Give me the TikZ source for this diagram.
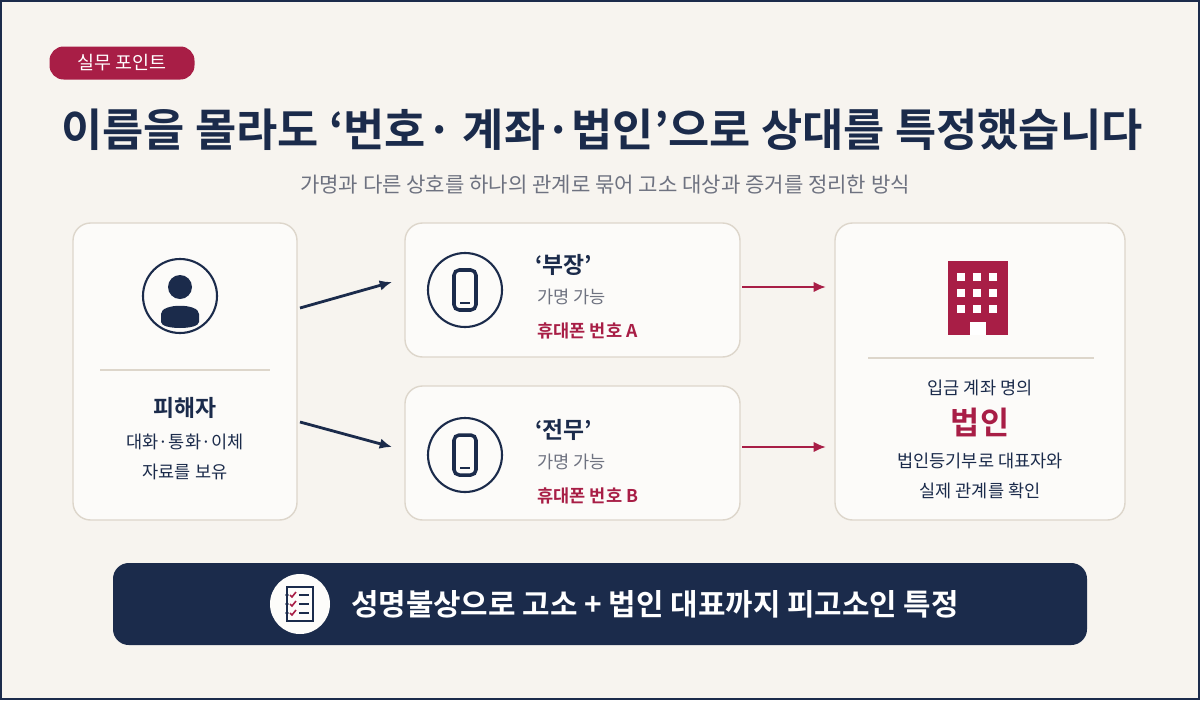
\documentclass[tikz,border=0pt]{standalone}
\usepackage{fontspec}
\setmainfont{Noto Sans CJK KR}
\newfontfamily\kb{Noto Sans CJK KR Bold}
\begin{document}
\definecolor{navy}{HTML}{1B2B4B}
\definecolor{crim}{HTML}{A81E46}
\definecolor{bg}{HTML}{F7F4EF}
\definecolor{gry}{HTML}{6E7280}
\definecolor{edge}{HTML}{DDD6CB}
\begin{tikzpicture}[x=0.02cm,y=-0.02cm,
 card/.style={draw=edge,line width=0.8pt,fill=white!60!bg,rounded corners=10pt},
 ic/.style={circle,draw=navy,line width=1.2pt,fill=white!60!bg,minimum size=74*0.02cm,inner sep=0},
 arr/.style={line width=1.6pt,-{Latex[length=7pt,width=6pt]}},
 txt/.style={inner sep=0,text=navy,font=\fontsize{10}{12}\selectfont}]
\usetikzlibrary{arrows.meta}
\fill[navy] (0,0) rectangle (1200,700);
\fill[bg] (2,2) rectangle (1198,698);
\useasboundingbox (0,0) rectangle (1200,700);
% badge
\node[fill=crim,rounded corners=8pt,minimum width=145*0.02cm,minimum height=33*0.02cm,text=white,font=\fontsize{10.5}{12}\selectfont,inner sep=0] (badge) at (122,63) {실무 포인트};
\node[txt,font=\kb\fontsize{25.5}{29}\selectfont] (title) at (602,130) {이름을 몰라도 ‘번호· 계좌·법인’으로 상대를 특정했습니다};
\node[txt,text=gry,font=\fontsize{12}{14}\selectfont] (sub) at (605,185) {가명과 다른 상호를 하나의 관계로 묶어 고소 대상과 증거를 정리한 방식};
% cards
\draw[card] (73,223) rectangle (297,520);
\draw[card] (405,223) rectangle (740,357);
\draw[card] (405,386) rectangle (740,520);
\draw[card] (835,223) rectangle (1125,520);
% left card
\node[ic] (pc) at (180,296) {};
\fill[navy] (180,287) circle (12);
\fill[navy] (161,322) -- (161,314) .. controls (161,303) and (199,303) .. (199,314) -- (199,322) .. controls (199,330) and (161,330) .. (161,322) -- cycle;
\draw[edge,line width=0.6pt] (100,370) -- (270,370);
\node[txt,font=\kb\fontsize{13}{15}\selectfont] (vic) at (185,408) {피해자};
\node[txt] (v1) at (185,442) {대화·통화·이체};
\node[txt] (v2) at (185,472) {자료를 보유};
% phones
\foreach \y/\n/\a in {290/‘부장’/A,455/‘전무’/B}{
 \node[ic] at (465,\y) {};
 \draw[navy,line width=2pt,rounded corners=3pt] (454,\y-20) rectangle (476,\y+20);
 \draw[navy,line width=1.6pt] (460,\y+13) -- (470,\y+13);
 \node[txt,anchor=west,font=\kb\fontsize{13}{15}\selectfont] at (535,\y-25) {\n};
 \node[txt,anchor=west,text=gry] at (537,\y+7) {가명 가능};
 \node[txt,anchor=west,text=crim,font=\kb\fontsize{10}{12}\selectfont] at (537,\y+41) {휴대폰 번호 \a};
}
% building
\fill[crim] (948,261) rectangle (1008,335);
\foreach \i in {0,1,2}{\foreach \j in {0,1,2}{
 \fill[white] (957+\i*16,273+\j*16) rectangle (965+\i*16,281+\j*16);}}
\fill[white] (970,322) rectangle (986,335);
\draw[edge,line width=0.6pt] (868,358) -- (1094,358);
\node[txt] (r1) at (980,388) {입금 계좌 명의};
\node[txt,text=crim,font=\kb\fontsize{18}{20}\selectfont] (r2) at (980,422) {법인};
\node[txt] (r3) at (980,461) {법인등기부로 대표자와};
\node[txt] (r4) at (980,491) {실제 관계를 확인};
% arrows
\coordinate (a1) at (300,308); \coordinate (b1) at (392,282);
\coordinate (a2) at (300,422); \coordinate (b2) at (392,447);
\coordinate (c1) at (742,287); \coordinate (d1) at (826,287);
\coordinate (c2) at (742,447); \coordinate (d2) at (826,447);
\draw[arr,navy] (a1) -- (b1);
\draw[arr,navy] (a2) -- (b2);
\draw[arr,crim] (c1) -- (d1);
\draw[arr,crim] (c2) -- (d2);
% bottom bar
\fill[navy,rounded corners=9pt] (113,563) rectangle (1087,645);
\fill[white!70!bg] (300,604) circle (30);
\draw[navy,line width=1.1pt] (287,587) rectangle (313,621);
\foreach \k in {0,1,2}{
 \fill[navy] (287,595+\k*9) circle (1.8);
 \draw[crim,line width=0.9pt] (290,595+\k*9) -- (292,597+\k*9) -- (296,592+\k*9);
 \draw[navy,line width=1.1pt] (299,595+\k*9) -- (309,595+\k*9);}
\node[txt,text=white,font=\kb\fontsize{17}{20}\selectfont] (bar) at (655,604) {성명불상으로 고소 + 법인 대표까지 피고소인 특정};
\end{tikzpicture}
\end{document}
